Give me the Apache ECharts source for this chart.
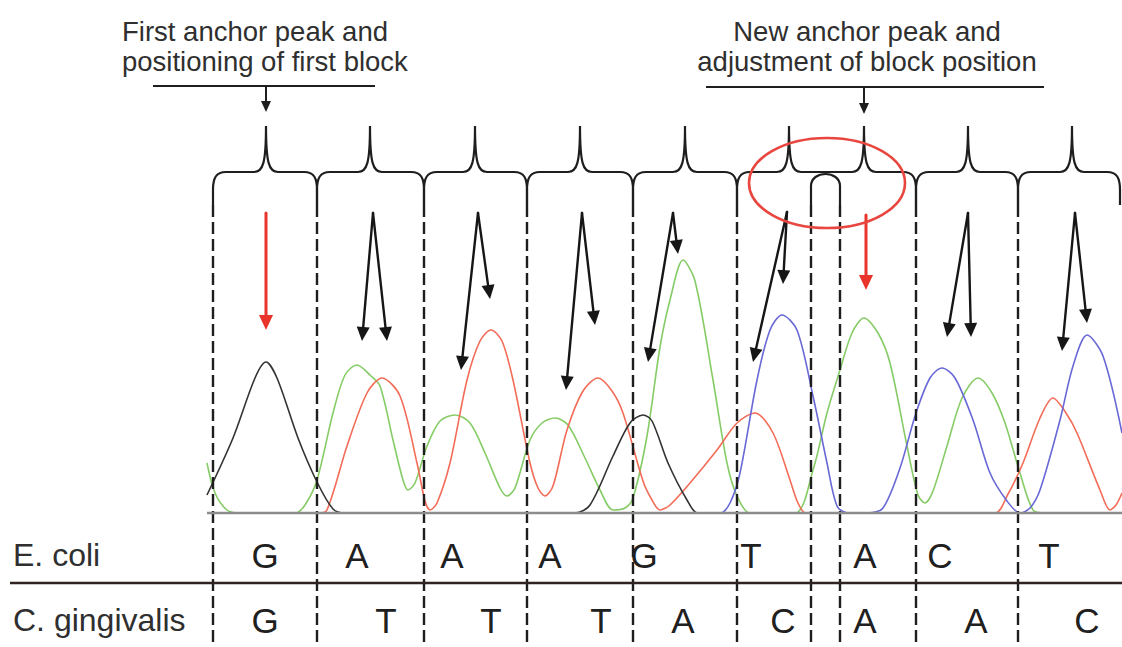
<!DOCTYPE html>
<html>
<head>
<meta charset="utf-8">
<script src="https://cdn.jsdelivr.net/npm/echarts@6/dist/echarts.min.js"></script>
<style>
html,body{margin:0;padding:0;background:#ffffff;}
#chart{width:1122px;height:647px;}
</style>
</head>
<body>
<div id="chart"></div>
<script>
// x = scan position, y = signal intensity (baseline = 0, sequence rows below it)
const blackTrace = [[207,18],[233,75],[255,135],[266,151],[277,135],[298,75],[317,31],[333,4],[345,0],[575,0],[590,8],[613,57],[630,90],[643,98],[652,92],[668,50],[687,13],[698,0],[1122,0]];
const greenTrace = [[207,50],[215,20],[227,3],[240,0],[295,0],[305,8],[317,33],[333,100],[345,138],[357,148],[370,138],[380,127],[393,73],[403,33],[408,23],[415,30],[427,67],[440,92],[455,98],[470,90],[485,60],[500,25],[507,17],[515,25],[530,73],[542,90],[555,95],[568,88],[585,55],[600,23],[613,3],[625,5],[633,15],[647,77],[660,166],[670,213],[683,253],[695,232],[713,133],[727,50],[737,17],[750,0],[795,0],[813,43],[827,100],[840,143],[852,180],[864,195],[878,180],[890,150],[907,67],[918,18],[925,10],[933,22],[947,67],[962,115],[978,135],[992,120],[1005,90],[1020,40],[1033,3],[1045,0],[1122,0]];
const redTrace = [[207,0],[318,0],[327,3],[347,67],[367,120],[382,135],[400,117],[417,50],[425,12],[430,3],[437,10],[450,50],[467,133],[480,172],[491,183],[502,172],[513,133],[530,50],[538,25],[545,17],[553,27],[567,83],[583,122],[598,135],[612,122],[623,100],[643,32],[652,13],[660,3],[670,8],[690,30],[717,63],[737,90],[755,100],[773,80],[790,33],[798,10],[806,0],[995,0],[1007,17],[1023,50],[1040,95],[1053,115],[1066,100],[1077,80],[1100,23],[1110,3],[1116,8],[1122,20]];
const blueTrace = [[207,0],[720,0],[730,10],[740,40],[757,133],[770,183],[782,198],[797,183],[813,117],[827,50],[837,7],[848,0],[868,0],[883,5],[900,45],[916,100],[930,135],[942,145],[955,135],[973,93],[990,40],[1007,12],[1020,0],[1030,5],[1040,23],[1060,93],[1073,147],[1087,178],[1103,157],[1122,80]];
const baselineSpan = [[207,0],[1122,0]];
const separatorSpan = [[10,-70],[1122,-70]];

// block layout (scan positions)
const boundaries = [213,317,424,527,633,737,811,840,916,1018];
const blockLeft = [213,317,424,527,633,737,840,916,1018];
const blockCenter = [266,370,475,580,685,789,864,968,1072];
const blockRight = [317,424,527,633,737,811,916,1018,1120];

// base calls
const rowLabels = ['E. coli','C. gingivalis'];
const rowLevels = [-42,-107];
const ecoliBases = ['G','A','A','A','G','T','A','C','T'];
const ecoliPos = [265,357,452,550,644,751,865,940,1049];
const cgingBases = ['G','T','T','T','A','C','A','A','C'];
const cgingPos = [265,386,491,601,683,783,865,976,1087];

// arrows: [fromX, fromY, toX, toY]
const blackArrows = [
  [373,300,362,172],[373,300,387,172],
  [478,300,461,143],[478,300,490,214],
  [582,300,566,123],[582,300,595,188],
  [673,300,648,151],[673,300,678,259],
  [787,301,753,151],[787,301,783,229],
  [968,300,947,176],[968,300,971,176],
  [1075,300,1062,162],[1075,300,1087,190]
];
const redArrows = [[266,300,266,183],[866,298,866,223]];
const noteArrows = [[266,427,266,401],[864,426,864,399]];
const noteRules = [[153,375,427],[706,1044,426]];

// annotation texts
const noteLeftLines = ['First anchor peak and','positioning of first block'];
const noteRightLines = ['New anchor peak and','adjustment of block position'];
const noteLevels = [482,452];
const noteLeftX = 122, noteRightX = 867;

// highlight ellipse: [cx, cy, rx, ry]
const highlight = [827,330,78,45];

// geometry constants
const braceLevel = 341, braceTip = 387, braceFoot = 308, dashBottom = -134;
const FONT = '"Liberation Sans", Arial, Helvetica, sans-serif';
const INK = '#1e1e1e';

const chart = echarts.init(document.getElementById('chart'), null, {renderer:'svg'});

function traceSeries(data, color){
  return {type:'line', data:data, showSymbol:false, smooth:0.3, z:2, silent:true,
    lineStyle:{color:color, width:1.6}, animation:false};
}

function arrowEl(p1, p2, color, lw, hl, hw){
  const dx=p2[0]-p1[0], dy=p2[1]-p1[1], len=Math.hypot(dx,dy);
  const ux=dx/len, uy=dy/len;
  const base=[p2[0]-ux*hl, p2[1]-uy*hl];
  const l=[base[0]-uy*hw, base[1]+ux*hw], r=[base[0]+uy*hw, base[1]-ux*hw];
  return [
    {type:'line', shape:{x1:p1[0],y1:p1[1],x2:base[0]+ux*3,y2:base[1]+uy*3}, style:{stroke:color,lineWidth:lw,lineCap:'round'}},
    {type:'polygon', shape:{points:[p2,l,r]}, style:{fill:color}}
  ];
}

function textEl(api, txt, x, y, size, align, color){
  const p = api.coord([x,y]);
  return {type:'text', x:p[0], y:p[1], style:{text:txt, font:size+'px '+FONT, fill:color||'#262626',
    align:align, textAlign:align, verticalAlign:'middle', textVerticalAlign:'middle'}};
}

const option = {
  animation:false,
  backgroundColor:'#ffffff',
  grid:{left:0,right:0,top:0,bottom:0,containLabel:false},
  xAxis:{type:'value',min:0,max:1122,show:false},
  yAxis:{type:'value',min:-134,max:513,show:false},
  series:[
    traceSeries(greenTrace,'#86cc66'),
    traceSeries(redTrace,'#f36c58'),
    traceSeries(blueTrace,'#6868d6'),
    traceSeries(blackTrace,'#333333'),
    {type:'line', data:baselineSpan, showSymbol:false, z:3, silent:true, lineStyle:{color:'#8c8c8c', width:2.4}},
    {type:'line', data:separatorSpan, showSymbol:false, z:3, silent:true, lineStyle:{color:'#2e2320', width:2.4}},
    // dashed block boundaries
    {type:'custom', z:3, silent:true, clip:false,
      data: boundaries.map(b=>[b, braceFoot]),
      renderItem:(params, api)=>{
        const p1 = api.coord([api.value(0), api.value(1)]);
        const p2 = api.coord([api.value(0), dashBottom]);
        return {type:'line', shape:{x1:p1[0],y1:p1[1],x2:p2[0],y2:p2[1]},
          style:{stroke:INK, lineWidth:2.4, lineDash:[12,5]}};
      }},
    // braces
    {type:'custom', z:4, silent:true, clip:false,
      data: blockCenter.map((c,i)=>[blockLeft[i], braceLevel, c, blockRight[i]]),
      renderItem:(params, api)=>{
        const i = params.dataIndex;
        const L = api.value(0), C = api.value(2), R = api.value(3);
        const curveL = (i===0) || blockRight[i-1]===L;
        const curveR = (i===blockCenter.length-1) || blockLeft[i+1]===R;
        const pl = api.coord([L, braceLevel]);
        const xl = pl[0], yh = pl[1];
        const xc = api.coord([C, braceLevel])[0];
        const xr = api.coord([R, braceLevel])[0];
        const yt = api.coord([C, braceTip])[1];
        const yb = api.coord([L, braceFoot])[1];
        let d = '';
        if (curveL) d += `M${xl} ${yb} L${xl} ${yh+18} C${xl} ${yh+6} ${xl+3} ${yh} ${xl+13} ${yh}`;
        else d += `M${xl} ${yh}`;
        d += ` L${xc-12} ${yh} C${xc-3} ${yh} ${xc} ${yh-9} ${xc} ${yt} C${xc} ${yh-9} ${xc+3} ${yh} ${xc+12} ${yh}`;
        if (curveR) d += ` L${xr-13} ${yh} C${xr-3} ${yh} ${xr} ${yh+6} ${xr} ${yh+18} L${xr} ${yb}`;
        else d += ` L${xr} ${yh}`;
        const children = [{type:'path', shape:{pathData:d}, style:{fill:null, stroke:INK, lineWidth:2.2}}];
        if (!curveR) {
          const xn = api.coord([blockLeft[i+1], braceLevel])[0];
          const a = `M${xr} ${yh} L${xn} ${yh} M${xr} ${yb} L${xr} ${yh+14} C${xr} ${yh-2} ${xn} ${yh-2} ${xn} ${yh+14} L${xn} ${yb}`;
          children.push({type:'path', shape:{pathData:a}, style:{fill:null, stroke:INK, lineWidth:2.2}});
        }
        return {type:'group', children:children};
      }},
    // highlight ellipse
    {type:'custom', z:6, silent:true, clip:false,
      data:[highlight],
      renderItem:(params, api)=>{
        const c = api.coord([api.value(0), api.value(1)]);
        const s = api.size([api.value(2), api.value(3)]);
        const rx = s[0], ry = s[1];
        const d = `M${c[0]-rx} ${c[1]} A${rx} ${ry} 0 1 0 ${c[0]+rx} ${c[1]} A${rx} ${ry} 0 1 0 ${c[0]-rx} ${c[1]} Z`;
        return {type:'path', shape:{pathData:d}, style:{fill:null, stroke:'#e8463f', lineWidth:2.6}};
      }},
    // black arrows
    {type:'custom', z:5, silent:true, clip:false, data:blackArrows,
      renderItem:(params, api)=>{
        const p1 = api.coord([api.value(0), api.value(1)]);
        const p2 = api.coord([api.value(2), api.value(3)]);
        return {type:'group', children:arrowEl(p1,p2,'#161616',2.4,14,6.5)};
      }},
    // red arrows
    {type:'custom', z:5, silent:true, clip:false, data:redArrows,
      renderItem:(params, api)=>{
        const p1 = api.coord([api.value(0), api.value(1)]);
        const p2 = api.coord([api.value(2), api.value(3)]);
        return {type:'group', children:arrowEl(p1,p2,'#e8342b',3,15,7)};
      }},
    // note rules and arrows
    {type:'custom', z:5, silent:true, clip:false, data:noteRules,
      renderItem:(params, api)=>{
        const p1 = api.coord([api.value(0), api.value(2)]);
        const p2 = api.coord([api.value(1), api.value(2)]);
        return {type:'line', shape:{x1:p1[0],y1:p1[1],x2:p2[0],y2:p2[1]}, style:{stroke:INK,lineWidth:2}};
      }},
    {type:'custom', z:5, silent:true, clip:false, data:noteArrows,
      renderItem:(params, api)=>{
        const p1 = api.coord([api.value(0), api.value(1)]);
        const p2 = api.coord([api.value(2), api.value(3)]);
        return {type:'group', children:arrowEl(p1,p2,INK,2,11,5)};
      }},
    // texts
    {type:'custom', z:7, silent:true, clip:false, data:[[0,0]],
      renderItem:(params, api)=>{
        const kids = [];
        noteLeftLines.forEach((t,i)=>kids.push(textEl(api,t,noteLeftX,noteLevels[i],27.5,'left','#2f2f2f')));
        noteRightLines.forEach((t,i)=>kids.push(textEl(api,t,noteRightX,noteLevels[i],27.5,'center','#2f2f2f')));
        rowLabels.forEach((t,i)=>kids.push(textEl(api,t,13,rowLevels[i],32,'left','#2f2f2f')));
        ecoliBases.forEach((b,i)=>kids.push(textEl(api,b,ecoliPos[i],rowLevels[0],35,'center','#202020')));
        cgingBases.forEach((b,i)=>kids.push(textEl(api,b,cgingPos[i],rowLevels[1],35,'center','#202020')));
        return {type:'group', children:kids};
      }}
  ]
};
chart.setOption(option);
</script>
</body>
</html>
